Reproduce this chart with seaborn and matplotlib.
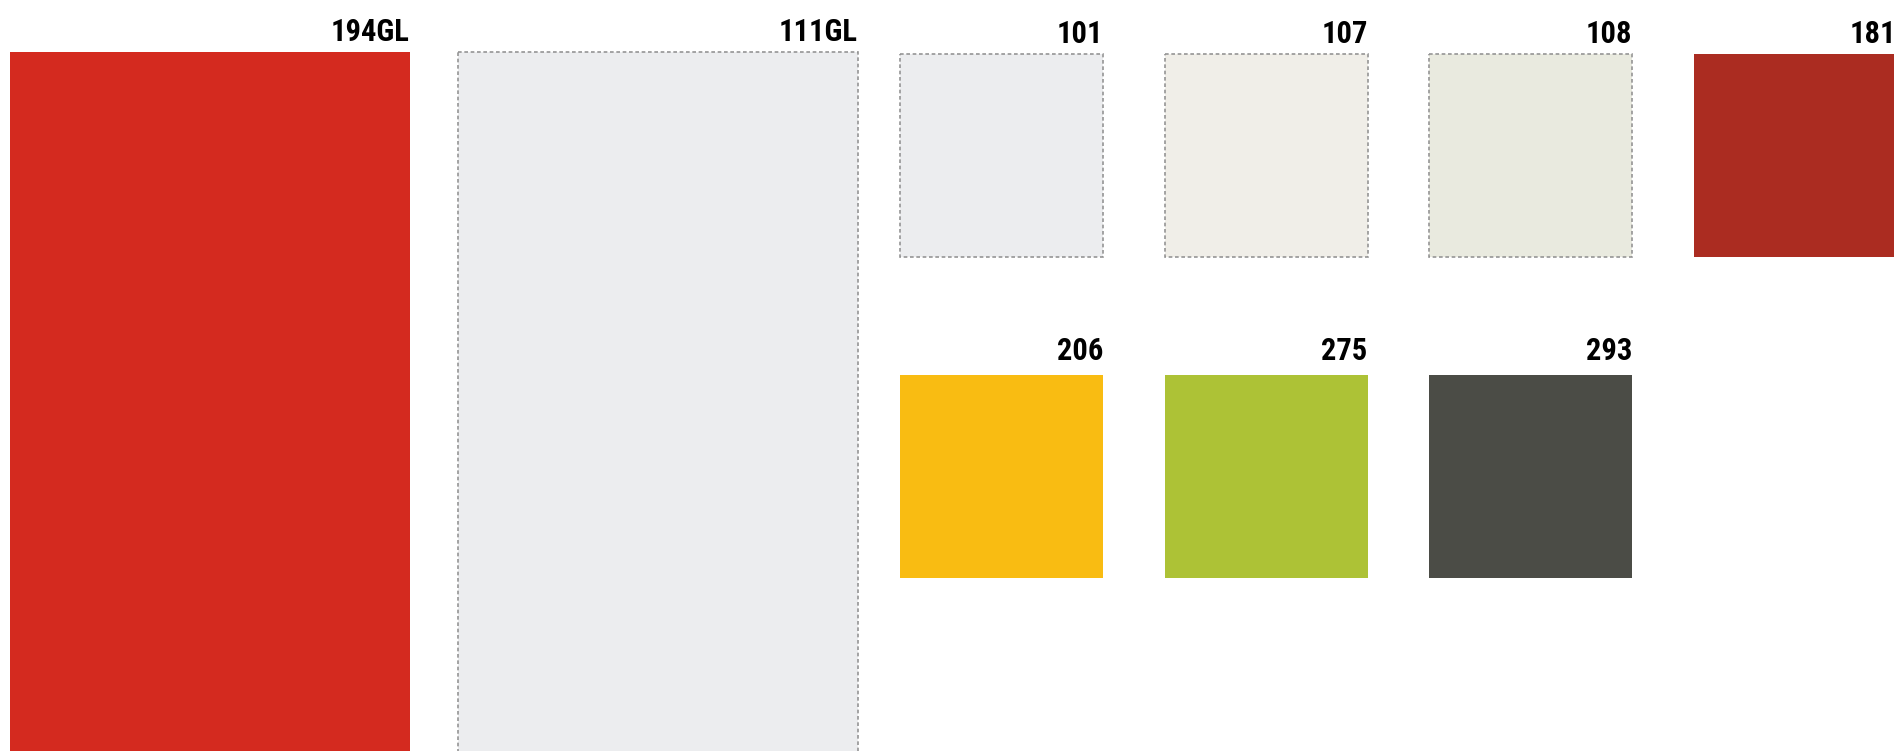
import matplotlib.pyplot as plt
import seaborn as sns

# swatch data
codes = ["194GL", "111GL", "101", "107", "108", "181", "206", "275", "293"]
colors = ["#D42A1F", "#ECEDEF", "#ECEDEF", "#F0EEE8", "#E9EADF", "#AB2C21",
          "#F9BC12", "#ADC236", "#4B4C46"]
bordered = [False, True, True, True, True, False, False, False, False]
kind = ["large", "large", "small", "small", "small", "small", "small", "small", "small"]
col = [0, 1, 0, 1, 2, 3, 0, 1, 2]
row = [0, 0, 0, 0, 0, 0, 1, 1, 1]

# layout in pixels (figure is 1894 x 751 at dpi 100)
W, H = 1894, 751
LARGE_X0, LARGE_STEP, LARGE_W, LARGE_TOP = 9.5, 448.5, 400, 52
SMALL_X0, SMALL_STEP, SMALL_W, SMALL_TOP, ROW_STEP = 900, 264.5, 203, 54, 320.5
LABEL_GAP = [11, 15]

sns.set_theme(style="white")
plt.rcParams['font.family'] = ['Roboto Condensed', 'DejaVu Sans']

fig = plt.figure(figsize=(W / 100, H / 100), dpi=100)
ax = fig.add_axes([0, 0, 1, 1])
ax.set_xlim(0, W)
ax.set_ylim(H, 0)
ax.axis("off")

for code, c, b, k, ci, ri in zip(codes, colors, bordered, kind, col, row):
    if k == "large":
        x0 = LARGE_X0 + ci * LARGE_STEP
        w = LARGE_W
        top = LARGE_TOP
        h = H - top + 5
    else:
        x0 = SMALL_X0 + ci * SMALL_STEP
        w = SMALL_W
        top = SMALL_TOP + ri * ROW_STEP
        h = SMALL_W
    ax.bar(x0, h, width=w, bottom=top, align="edge", color=c,
           edgecolor="#959595" if b else c,
           linewidth=1.2 if b else 0,
           linestyle=(0, (2.2, 1.6)) if b else "-")
    ax.text(x0 + w, top - LABEL_GAP[ri], code, ha="right", va="baseline",
            fontsize=22, fontweight="bold", fontstretch="condensed", color="#000000")

plt.savefig("out.png", dpi=100)
